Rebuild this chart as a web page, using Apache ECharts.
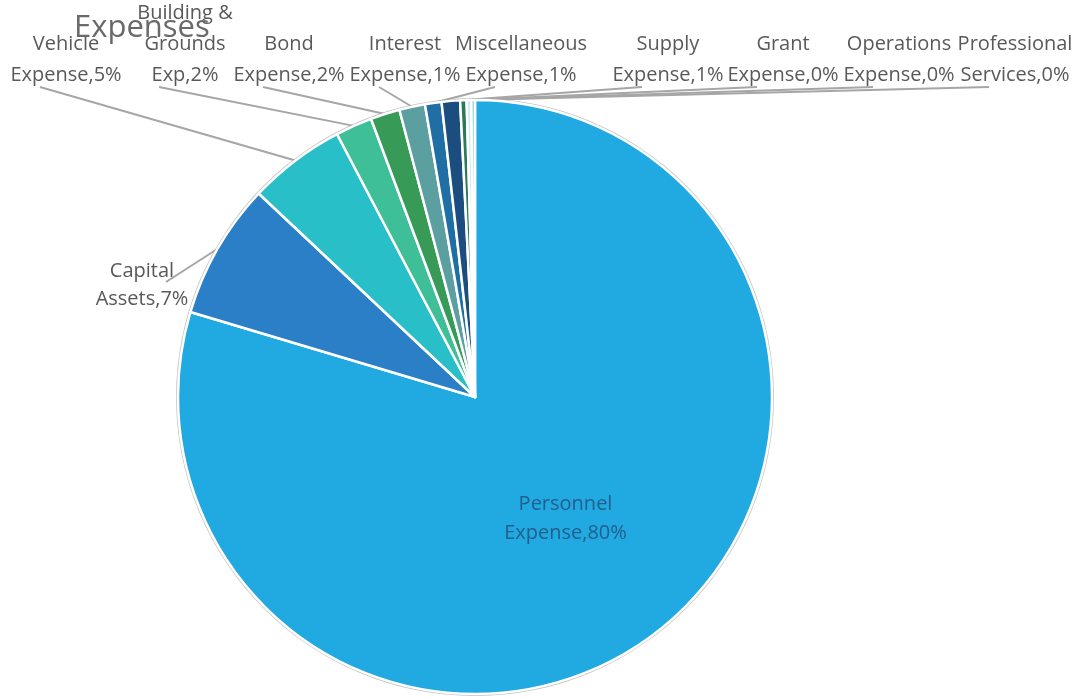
<!DOCTYPE html>
<html>
<head>
<meta charset="utf-8">
<script src="https://cdn.jsdelivr.net/npm/echarts@6/dist/echarts.min.js"></script>
<style>
  html, body { margin: 0; padding: 0; background: #fff; }
  #chart { width: 1074px; height: 697px; }
</style>
</head>
<body>
<div id="chart"></div>
<script>
// Expense categories, in clockwise order from 12 o'clock
const categories = [
  'Personnel\nExpense', 'Capital\nAssets', 'Vehicle\nExpense', 'Building &\nGrounds\nExp',
  'Bond\nExpense', 'Interest\nExpense', 'Miscellaneous\nExpense', 'Supply\nExpense',
  'Grant\nExpense', 'Operations\nExpense', 'Professional\nServices'
];
// Share of total expenses (percent)
const shares = [79.7, 7.4, 5.3, 2.0, 1.6, 1.4, 0.9, 1.0, 0.35, 0.25, 0.2];
const sliceColors = [
  '#21a9e1', '#2a7fc6', '#29bfc9', '#3ebf98', '#389a57', '#5c9fa0',
  '#1f6ea4', '#1b4e7f', '#2b7a57', '#cfeaf0', '#86cfe3'
];

// Where each outside label sits: [centre x, bottom y]
const labelSpots = {
  1: [142, 313],
  2: [66, 91],
  3: [185, 91],
  4: [289, 91],
  5: [405, 91],
  6: [521, 91],
  7: [668, 91],
  8: [783, 91],
  9: [899, 91],
  10: [1015, 91]
};

const textColor = '#595959';
const fontFamily = '"Open Sans", "Noto Sans", sans-serif';

const pieData = categories.map((name, i) => {
  const item = { name: name, value: shares[i], itemStyle: { color: sliceColors[i] } };
  if (i === 0) {
    item.label = { position: 'inside', color: '#235f8c', lineHeight: 29 };
    item.labelLine = { show: false };
  } else if (i === 1) {
    item.label = { lineHeight: 28 };
  }
  return item;
});

const chart = echarts.init(document.getElementById('chart'), null, { renderer: 'canvas' });

chart.setOption({
  animation: false,
  title: {
    text: 'Expenses',
    left: 69,
    top: 8,
    textStyle: { fontFamily: fontFamily, fontSize: 31, fontWeight: 'normal', color: '#6a6a6a' }
  },
  series: [
    {
      // thin grey rim around the pie
      type: 'pie',
      silent: true,
      center: [475, 397],
      radius: [297, 299],
      startAngle: 90,
      label: { show: false },
      labelLine: { show: false },
      itemStyle: { color: '#c4c4c4' },
      data: [{ value: 1, name: 'rim' }],
      z: 1
    },
    {
      type: 'pie',
      center: [475, 397],
      radius: [0, 297],
      startAngle: 90,
      clockwise: true,
      avoidLabelOverlap: false,
      itemStyle: { borderColor: '#ffffff', borderWidth: 2.5 },
      label: {
        show: true,
        fontFamily: fontFamily,
        fontSize: 20,
        color: textColor,
        lineHeight: 31,
        align: 'center',
        formatter: p => p.name + ',' + Math.round(p.percent) + '%'
      },
      labelLine: { show: true, lineStyle: { color: '#a6a6a6', width: 2 }, length: 10, length2: 10 },
      labelLayout: function (params) {
        const spot = labelSpots[params.dataIndex];
        if (!spot) return {};
        const res = { x: spot[0], y: spot[1], align: 'center', verticalAlign: 'bottom' };
        const pts = params.labelLinePoints;
        if (pts && pts.length) {
          const end = params.dataIndex === 1 ? [spot[0] + 24, spot[1] - 31] : [spot[0] - 26, spot[1] - 4];
          res.labelLinePoints = [pts[0], end, end];
        }
        return res;
      },
      data: pieData,
      z: 2
    }
  ]
});
</script>
</body>
</html>
